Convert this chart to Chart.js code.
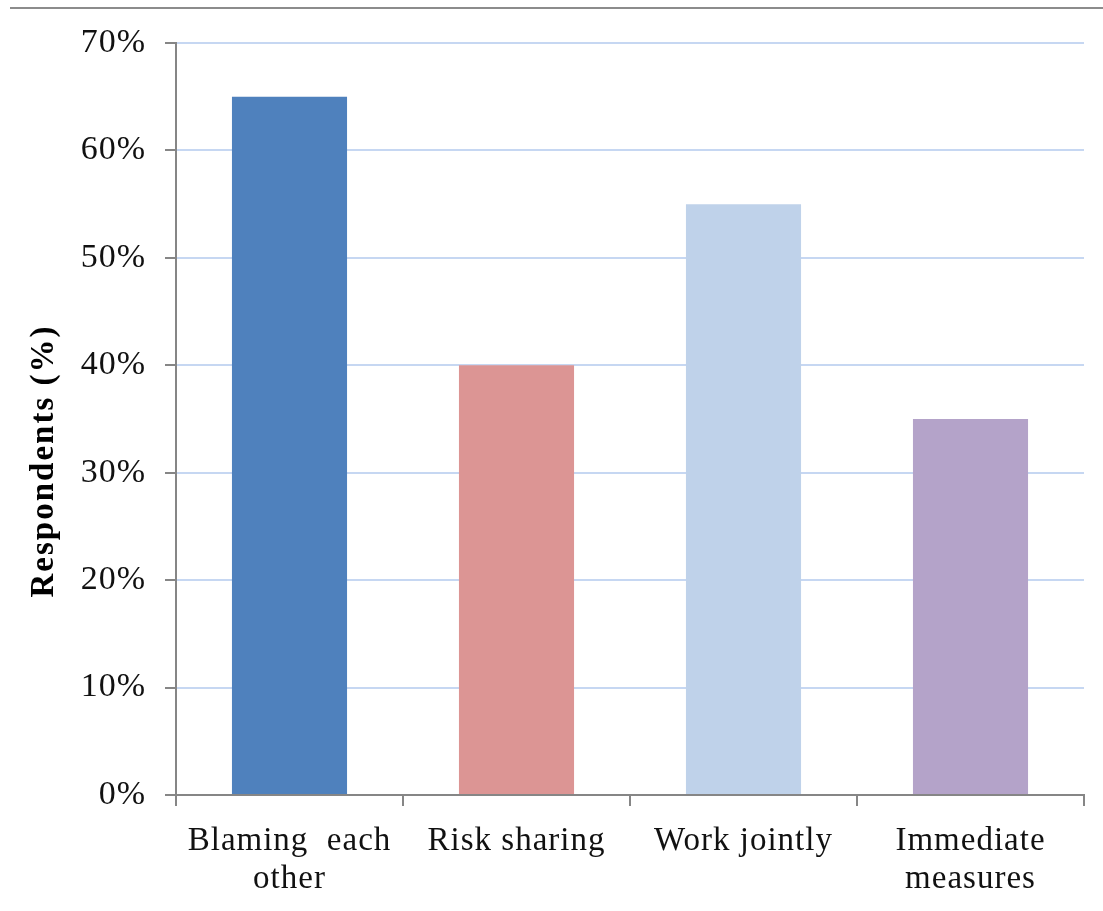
<!DOCTYPE html>
<html>
<head>
<meta charset="utf-8">
<script src="https://cdn.jsdelivr.net/npm/chart.js@4/dist/chart.umd.min.js"></script>
<style>
  body { margin: 0; background: #fff; }
  .wrap { position: relative; width: 1103px; height: 911px; }
  .topline { position: absolute; left: 10px; right: 0; top: 7px; height: 0; border-top: 2px solid #8c8c8c; }
</style>
</head>
<body>
<div class="wrap">
  <div class="topline"></div>
  <canvas id="respChart" width="1103" height="911"></canvas>
</div>
<script>
// data
const categories = [['Blaming  each', 'other'], 'Risk sharing', 'Work jointly', ['Immediate', 'measures']];
const respondents = [65, 40, 55, 35];
const barColors = ['#4f81bd', '#dc9594', '#bfd2ea', '#b4a3c9'];
const yTicks = [0, 10, 20, 30, 40, 50, 60, 70];
const yTitle = 'Respondents (%)';

const serif = "'Liberation Serif', 'Times New Roman', serif";

// the original text is set a little wide
const spacingPlugin = {
  id: 'spacing',
  beforeDraw(chart) {
    chart.ctx.letterSpacing = '1px';
  },
};

// y title sits a bit below the middle of the plot in the original, so draw it by hand
const yTitlePlugin = {
  id: 'yTitle',
  afterDraw(chart) {
    const ctx = chart.ctx;
    ctx.save();
    ctx.translate(53, 461);
    ctx.rotate(-Math.PI / 2);
    ctx.font = `bold 33px ${serif}`;
    ctx.letterSpacing = '2px';
    ctx.fillStyle = '#000';
    ctx.textAlign = 'center';
    ctx.textBaseline = 'alphabetic';
    ctx.fillText(yTitle, 0, 0);
    ctx.restore();
  },
};

const context = document.getElementById('respChart').getContext('2d');
new Chart(context, {
  type: 'bar',
  data: {
    labels: categories,
    datasets: [
      {
        label: 'Respondents',
        data: respondents,
        backgroundColor: barColors,
        borderWidth: 0,
        categoryPercentage: 1,
        barPercentage: 0.507,
      },
    ],
  },
  options: {
    responsive: false,
    animation: false,
    layout: {
      padding: { left: 0, top: 43, right: 19, bottom: 0 },
    },
    plugins: {
      legend: { display: false },
      tooltip: { enabled: false },
    },
    scales: {
      y: {
        min: 0,
        max: 70,
        afterFit: (scale) => { scale.width = 176; },
        afterBuildTicks: (scale) => { scale.ticks = yTicks.map((v) => ({ value: v })); },
        ticks: {
          color: '#111',
          font: { family: serif, size: 34 },
          padding: 19,
          callback: (v) => v + '%',
        },
        grid: {
          color: (c) => (c.tick.value === 0 ? 'rgba(0,0,0,0)' : '#c6d7f2'),
          lineWidth: 2,
          tickColor: '#868686',
          tickLength: 11,
        },
        border: { color: '#868686', width: 2 },
      },
      x: {
        afterFit: (scale) => { scale.height = 116; },
        ticks: {
          color: '#111',
          font: { family: serif, size: 33, lineHeight: 1.15 },
          padding: 16,
          maxRotation: 0,
          autoSkip: false,
        },
        grid: {
          drawOnChartArea: false,
          tickColor: '#868686',
          tickLength: 11,
          lineWidth: 2,
        },
        border: { color: '#868686', width: 2 },
      },
    },
  },
  plugins: [spacingPlugin, yTitlePlugin],
});
</script>
</body>
</html>
